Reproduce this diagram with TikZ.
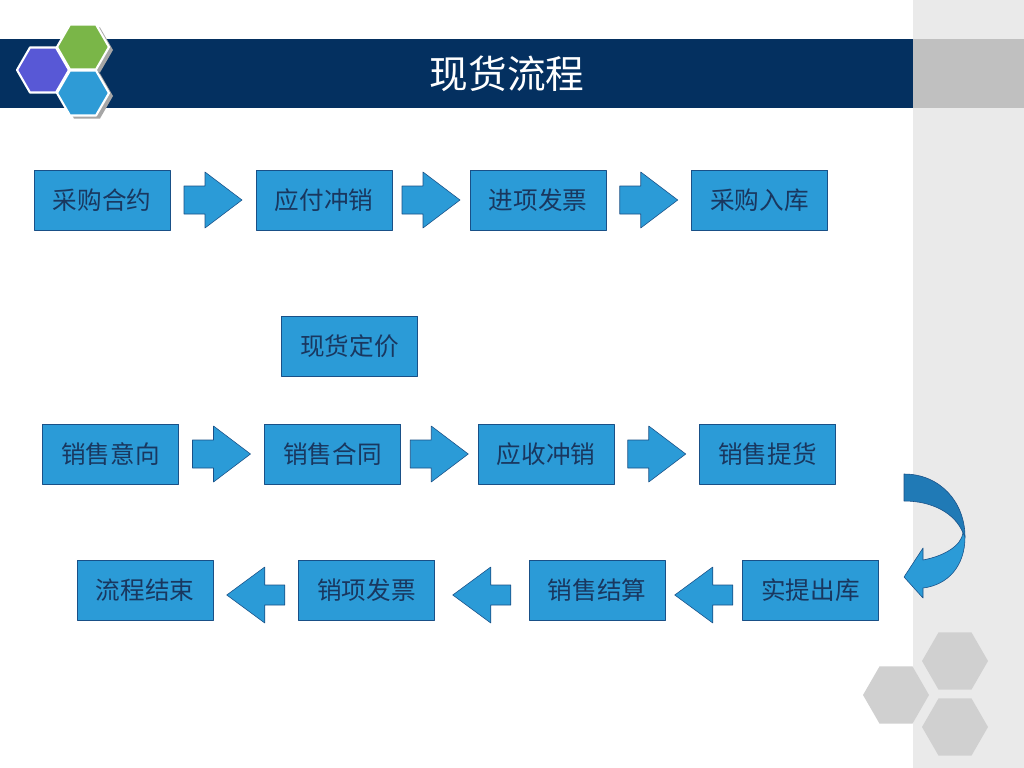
\documentclass[tikz,border=0pt]{standalone}
\usepackage{fontspec}
\newfontfamily\cjk{Noto Sans CJK SC}
\usepackage{tikz}
\usetikzlibrary{calc}
\definecolor{barnavy}{RGB}{4,48,96}
\definecolor{stripgray}{RGB}{234,234,234}
\definecolor{bargray}{RGB}{192,192,192}
\definecolor{hexgray}{RGB}{208,208,208}
\definecolor{boxblue}{RGB}{43,155,215}
\definecolor{boxedge}{RGB}{25,80,135}
\definecolor{boxtext}{RGB}{25,55,95}
\definecolor{bendblue}{RGB}{32,122,182}
\definecolor{hexpurple}{RGB}{88,88,214}
\definecolor{hexgreen}{RGB}{122,182,72}
\definecolor{hexblue}{RGB}{46,155,214}
\tikzset{
  stage/.style={draw=boxedge,fill=boxblue,text=boxtext,minimum width=3.4cm,minimum height=1.5cm,
    inner sep=0pt,font=\cjk\fontsize{17.5}{20}\selectfont},
  flowwide/.pic={\filldraw[draw=boxedge,fill=boxblue] (-29,-14)--(-8,-14)--(-8,-28)--(29,0)--(-8,28)--(-8,14)--(-29,14)--cycle;},
  flowthin/.pic={\filldraw[draw=boxedge,fill=boxblue] (-29,-10)--(-9,-10)--(-9,-28)--(29,0)--(-9,28)--(-9,10)--(-29,10)--cycle;}
}
\begin{document}
\begin{tikzpicture}[x=0.025cm,y=-0.025cm,join=round] % spot trade flow
        \useasboundingbox (0,0) rectangle (1024,768);
        \fill[white](0,0) rectangle (1024,768);
        \fill[stripgray](913,0) rectangle (1024,768);
        \fill[barnavy](0,39) rectangle (913,108);
        \fill[bargray](913,39) rectangle (1024,108);
        \foreach \cx/\cy in {955/661,896/695,955/727}
                \fill[hexgray](\cx,\cy) +(0:33)--+(60:33)--+(120:33)--+(180:33)--+(240:33)--+(300:33)--cycle;
        \foreach \cx/\cy in {83/47,83/93}
                \fill[gray!70](\cx+4,\cy+3) +(0:26)--+(60:26)--+(120:26)--+(180:26)--+(240:26)--+(300:26)--cycle;
        \foreach \cx/\cy/\col in {43/70/hexpurple,83/47/hexgreen,83/93/hexblue}
                \filldraw[fill=\col,draw=white,line width=1.5pt](\cx,\cy) +(0:26)--+(60:26)--+(120:26)--+(180:26)--+(240:26)--+(300:26)--cycle;
        \node[text=white,font=\cjk\fontsize{27.5}{30}\selectfont] (title) at (507,74) {现货流程};

        \node[stage] (buy) at (102,200) {采购合约};
        \node[stage] (pay) at (324,200) {应付冲销};
        \node[stage] (inv) at (538,200) {进项发票};
        \node[stage] (stock) at (759.5,200) {采购入库};
        \node[stage] (price) at (349.5,346) {现货定价};
        \node[stage] (intent) at (110.5,454) {销售意向};
        \node[stage] (deal) at (332.5,454) {销售合同};
        \node[stage] (recv) at (546,454) {应收冲销};
        \node[stage] (pick) at (767.5,454) {销售提货};
        \node[stage] (done) at (145,590) {流程结束};
        \node[stage] (outinv) at (366.5,590) {销项发票};
        \node[stage] (settle) at (597,590) {销售结算};
        \node[stage] (ship) at (810.5,590) {实提出库};

        \foreach \a/\b in {buy/pay,pay/inv,inv/stock,intent/deal,deal/recv,recv/pick}
                \pic at ($(\a.east)!.5!(\b.west)$) {flowwide};
        \foreach \a/\b in {ship/settle,settle/outinv,outinv/done}
                \pic[rotate=180] at ($(\a.west)!.5!(\b.east)+(0,5)$) {flowthin};

        \filldraw[draw=boxedge,fill=bendblue](904,474) .. controls (940,474) and (965,502) .. (965,537)
                -- (963,533) .. controls (955,513) and (932,501) .. (904,501) -- cycle;
        \filldraw[draw=boxedge,fill=boxblue](965,537) .. controls (965,566) and (948,585) .. (923,588)
                -- (923,598) -- (904,577) -- (923,548) -- (923,560)
                .. controls (944,556) and (961,546) .. (963,533) -- cycle;
     \end{tikzpicture}
\end{document}
